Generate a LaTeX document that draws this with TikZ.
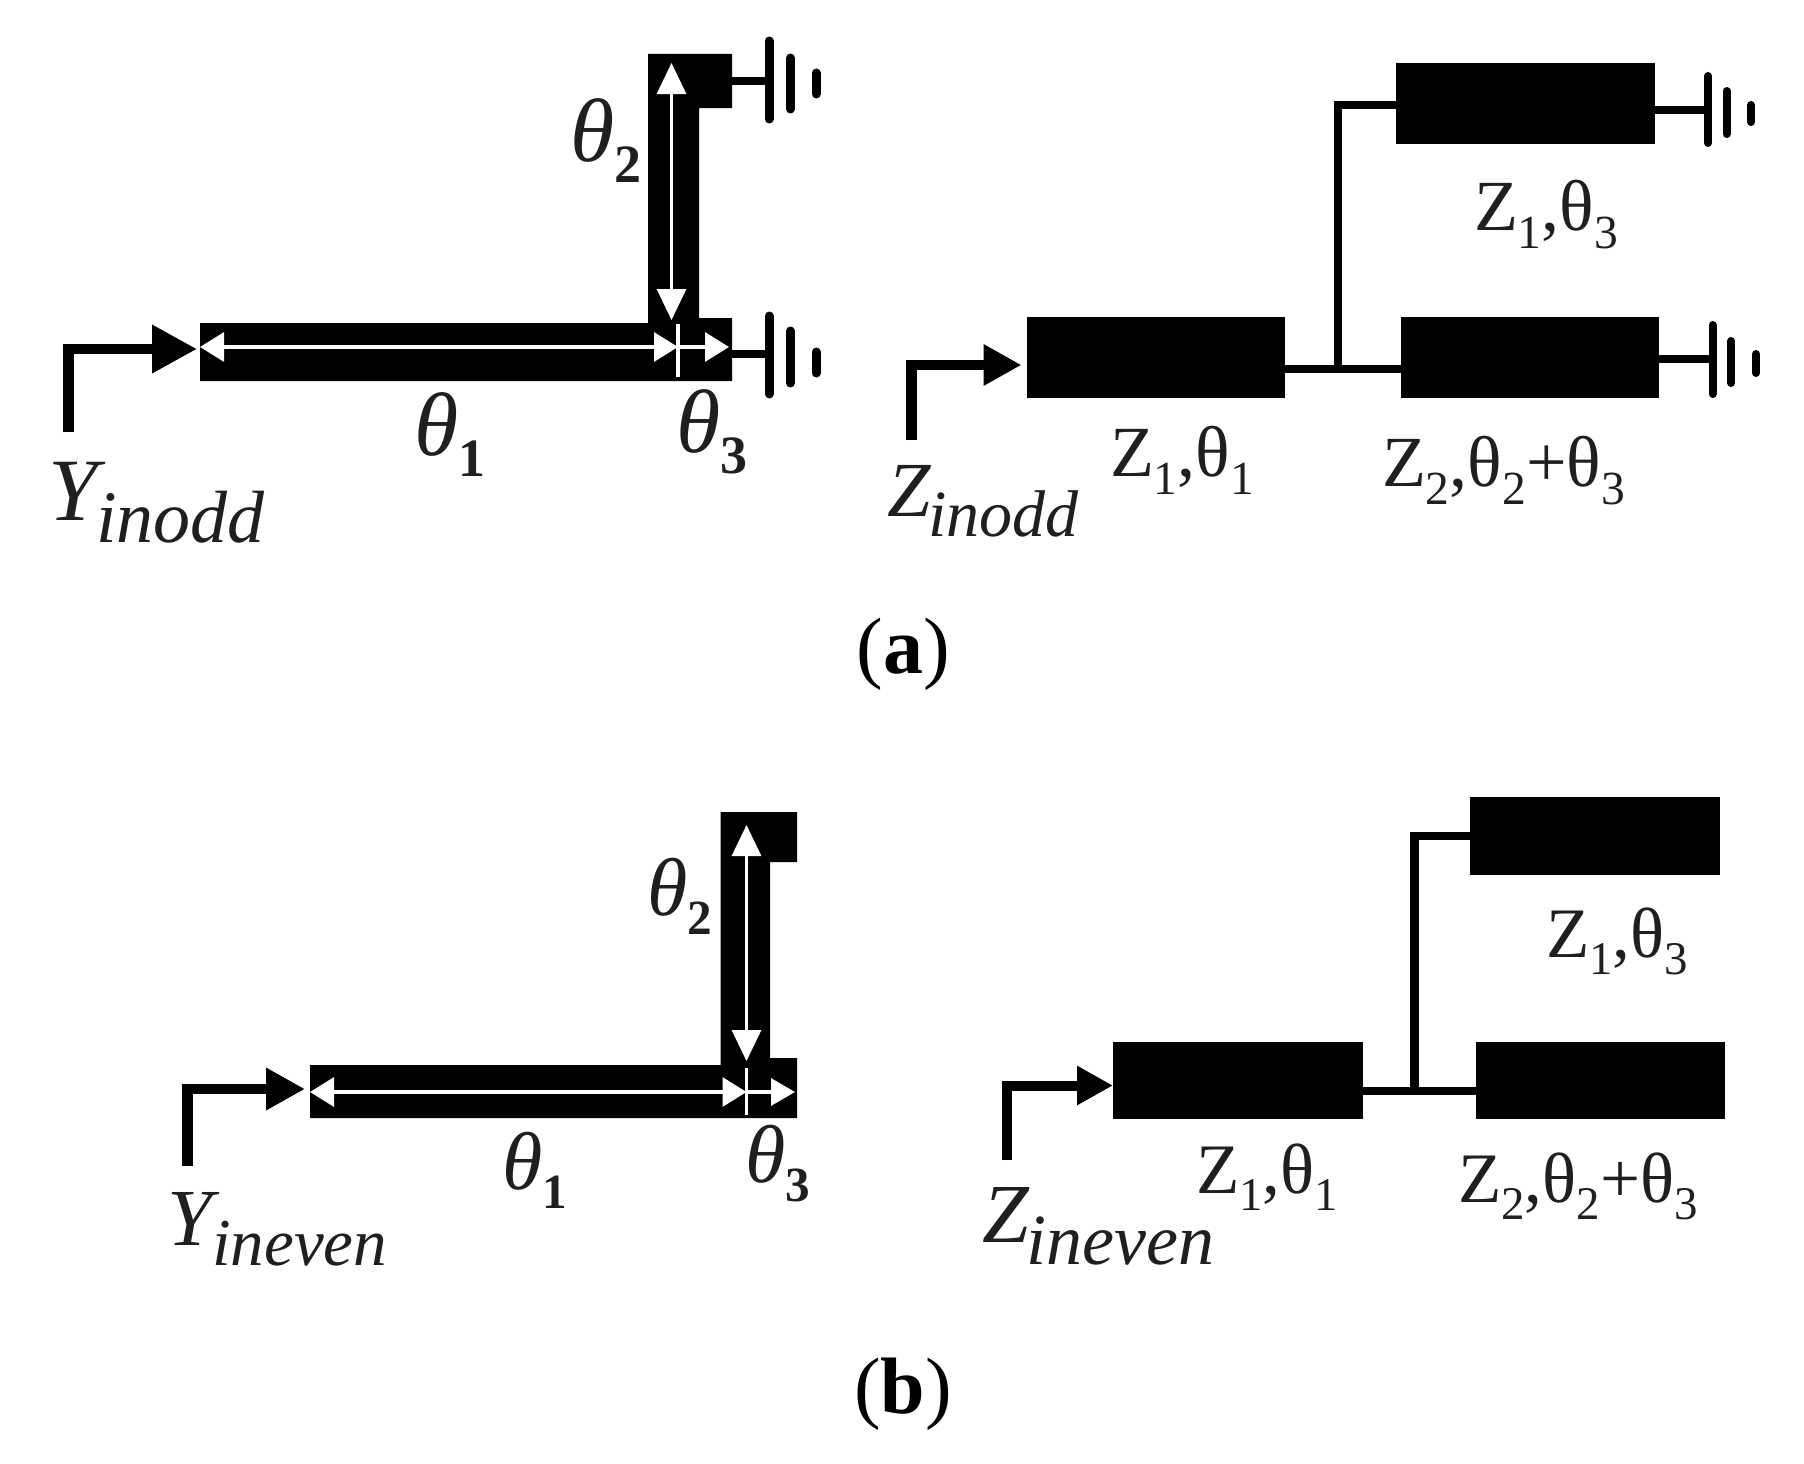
\documentclass[tikz,border=0pt]{standalone}
\usepackage{fontspec}
\usepackage{graphicx}
\setmainfont{Liberation Serif}
\usetikzlibrary{arrows.meta}
\newcommand{\fsz}[1]{\fontsize{#1}{#1}\selectfont}
\newcommand{\lsub}[1]{\raisebox{-0.24em}{\scalebox{0.6}{\textbf{#1}}}}
\newcommand{\tsub}[1]{\raisebox{-0.25em}{\scalebox{0.66}{#1}}}
\tikzset{
  x=1pt,y=-1pt,
  lab/.style={anchor=base west,inner sep=0pt,outer sep=0pt,text=black!88},
  figcap/.style={anchor=base,inner sep=0pt,text=black,font=\fsz{80}},
  tline/.style={fill=black,draw=none,rectangle,inner sep=0pt,outer sep=0pt},
  solid metal/.style={fill=black,draw=none},
  wire/.style={draw=black,line width=8.5pt},
  stem/.style={draw=black,line width=8pt},
  plate/.style={draw=black,line width=9pt,line cap=round},
  feed/.style={draw=black,line width=11pt,shorten >=-5pt},
  feedh/.style={draw=black,line width=10pt},
  dim/.style={draw=white,line width=3.2pt,{Triangle[width=29pt,length=24pt]}-{Triangle[width=29pt,length=24pt]}},
  dimv/.style={draw=white,line width=3.2pt,{Triangle[width=29pt,length=31pt]}-{Triangle[width=29pt,length=31pt]}},
}
\begin{document}
\begin{tikzpicture}
\useasboundingbox (0,0) rectangle (1804,1464);
% ===== (a) left =====
\fill[solid metal] (200,323) -- (648,323) -- (648,54) -- (732,54) -- (732,108) -- (699,108)
  -- (699,318) -- (732,318) -- (732,381) -- (200,381) -- cycle;
\coordinate (al) at (200,347);
\coordinate (ax) at (678,347);
\coordinate (ar) at (729,347);
\coordinate (at) at (671.5,63);
\coordinate (ab) at (671.5,320);
\draw[dim] (al) -- (ax);
\draw[draw=white,line width=3.2pt,-{Triangle[width=29pt,length=24pt]}] (ax) -- (ar);
\draw[dimv] (at) -- (ab);
\draw[draw=white,line width=3.2pt] (678,324) -- (678,377);
% input
\coordinate (aF) at (68,432);
\coordinate (aC) at (68,349);
\draw[feed] (aF) -- (aC);
\draw[feedh,shorten <=-5.5pt,-{Triangle[width=46pt,length=45pt]}] (aC) -- (197,349);
% grounds
\coordinate (aG1) at (769,81);
\draw[stem] (732,81) -- (aG1);
\draw[plate] (769,41) -- (769,119);
\draw[plate] (790.5,58) -- (790.5,109);
\draw[plate] (816,73) -- (816,94);
\coordinate (aG2) at (769,354);
\draw[stem] (732,354) -- (aG2);
\draw[plate] (769,316) -- (769,394);
\draw[plate] (790.5,331) -- (790.5,383);
\draw[plate] (816,352) -- (816,373);
% labels
\node[lab] (ath2) at (570,161) {\fsz{90}\textit{θ}\lsub{2}};
\node[lab] (ath1) at (414,455) {\fsz{90}\textit{θ}\lsub{1}};
\node[lab] (ath3) at (676,452) {\fsz{90}\textit{θ}\lsub{3}};
\node[lab] (aY) at (48,520) {\fsz{89}\textit{Y}\hspace*{-9pt}\raisebox{-22pt}{\fsz{74}\textit{inodd}}};
% ===== (a) right =====
\node[tline,minimum width=258pt,minimum height=81pt] (a1) at (1156,357.5) {};
\node[tline,minimum width=259pt,minimum height=81pt] (a2) at (1525.5,103.5) {};
\node[tline,minimum width=258pt,minimum height=81pt] (a3) at (1530,357.5) {};
\coordinate (aj) at (1338,369);
\draw[wire] (aj -| a1.east) -- (aj -| a3.west);
\draw[wire,line join=miter] (aj) -- (1338,105) -- (a2.west |- 0,105);
\coordinate (aFz) at (911,440);
\coordinate (aCz) at (911,365);
\draw[feed] (aFz) -- (aCz);
\draw[feedh,shorten <=-5.5pt,-{Triangle[width=39pt,length=38pt]},shorten >=5.5pt] (aCz) -- (a1.west |- aCz);
\coordinate (aG3) at (1708,110);
\draw[stem] (aG3 -| a2.east) -- (aG3);
\draw[plate,line width=8pt] (1708,76) -- (1708,143);
\draw[plate,line width=8pt] (1726.5,91) -- (1726.5,134);
\draw[plate,line width=8pt] (1751,105) -- (1751,122);
\coordinate (aG4) at (1712.5,359);
\draw[stem] (aG4 -| a3.east) -- (aG4);
\draw[plate,line width=8pt] (1712.5,325) -- (1712.5,394);
\draw[plate,line width=8pt] (1731,341) -- (1731,383);
\draw[plate,line width=8pt] (1756,354) -- (1756,373);
\node[lab] (alz3) at (1474,230) {\fsz{72}Z\tsub{1},θ\tsub{3}};
\node[lab] (alz1) at (1110,476) {\fsz{72}Z\tsub{1},θ\tsub{1}};
\node[lab] (alz2) at (1382,486) {\fsz{72}Z\tsub{2},θ\tsub{2}+θ\tsub{3}};
\node[lab] (aZ) at (887,516) {\fsz{78}\textit{Z}\hspace*{-3pt}\raisebox{-20pt}{\fsz{66}\textit{inodd}}};
\node[figcap] (capa) at (903,673) {(\textbf{a})};
% ===== (b) left =====
\fill[solid metal] (310,1065) -- (720.5,1065) -- (720.5,812) -- (797,812) -- (797,862) -- (770,862)
  -- (770,1058) -- (797,1058) -- (797,1118) -- (310,1118) -- cycle;
\coordinate (bl) at (310,1092);
\coordinate (bx) at (746.5,1092);
\coordinate (br) at (795,1092);
\coordinate (bt) at (746.5,825);
\coordinate (bb) at (746.5,1061);
\draw[dim] (bl) -- (bx);
\draw[draw=white,line width=3.2pt,-{Triangle[width=27pt,length=24pt]}] (bx) -- (br);
\draw[dimv] (bt) -- (bb);
\draw[draw=white,line width=3.2pt] (746.5,1068) -- (746.5,1115);
\coordinate (bF) at (187,1166);
\coordinate (bC) at (187,1089);
\draw[feed] (bF) -- (bC);
\draw[feedh,shorten <=-5.5pt,-{Triangle[width=40pt,length=39pt]}] (bC) -- (305,1089);
\node[lab] (bth2) at (647,915) {\fsz{82}\textit{θ}\lsub{2}};
\node[lab] (bth1) at (502,1189) {\fsz{82}\textit{θ}\lsub{1}};
\node[lab] (bth3) at (745,1182) {\fsz{82}\textit{θ}\lsub{3}};
\node[lab] (bY) at (167,1245) {\fsz{81}\textit{Y}\hspace*{-7pt}\raisebox{-20pt}{\fsz{67}\textit{ineven}}};
% ===== (b) right =====
\node[tline,minimum width=250pt,minimum height=77pt] (b1) at (1238,1080.5) {};
\node[tline,minimum width=250pt,minimum height=77.5pt] (b2) at (1595,835.75) {};
\node[tline,minimum width=249pt,minimum height=77pt] (b3) at (1600,1080.5) {};
\coordinate (bj) at (1414.5,1091);
\draw[wire] (bj -| b1.east) -- (bj -| b3.west);
\draw[wire,line join=miter] (bj) -- (1414.5,836) -- (b2.west |- 0,836);
\coordinate (bFz) at (1007,1160);
\coordinate (bCz) at (1007,1085.5);
\draw[feed,line width=10pt] (bFz) -- (bCz);
\draw[feedh,shorten <=-5pt,-{Triangle[width=37pt,length=36pt]}] (bCz) -- (b1.west |- bCz);
\node[lab] (blz3) at (1546,957) {\fsz{71}Z\tsub{1},θ\tsub{3}};
\node[lab] (blz1) at (1196,1193) {\fsz{71}Z\tsub{1},θ\tsub{1}};
\node[lab] (blz2) at (1458,1202) {\fsz{71}Z\tsub{2},θ\tsub{2}+θ\tsub{3}};
\node[lab] (bZ) at (982,1242) {\fsz{84}\textit{Z}\hspace*{-3pt}\raisebox{-22pt}{\fsz{72}\textit{ineven}}};
\node[figcap] (capb) at (903,1413) {(\textbf{b})};
\end{tikzpicture}
\end{document}
